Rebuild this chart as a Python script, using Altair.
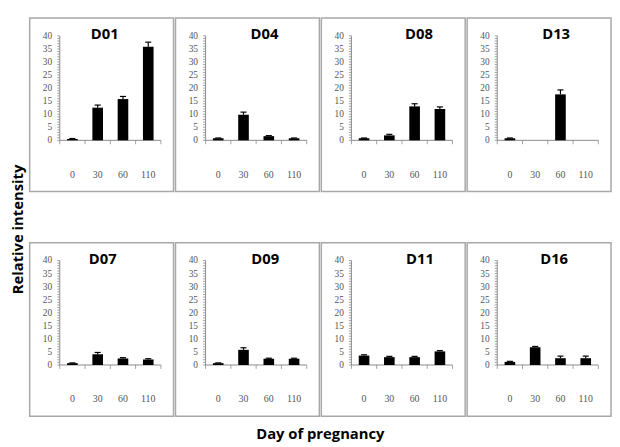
import altair as alt
import pandas as pd

days = ["0", "30", "60", "110"]
day_index = [0, 1, 2, 3]

names = ["D01", "D04", "D08", "D13", "D07", "D09", "D11", "D16"]

D01 = [0.5, 12.5, 15.8, 35.8]
D04 = [0.8, 9.8, 1.6, 0.8]
D08 = [0.8, 1.9, 13.0, 12.0]
D13 = [0.8, 0.0, 17.6, 0.0]
D07 = [0.7, 4.1, 2.5, 2.1]
D09 = [0.7, 5.8, 2.4, 2.4]
D11 = [3.6, 3.0, 3.0, 5.2]
D16 = [1.2, 6.8, 2.6, 2.6]

D01_err = [0.2, 1.0, 1.0, 1.8]
D04_err = [0.1, 1.0, 0.2, 0.1]
D08_err = [0.1, 0.4, 1.0, 0.8]
D13_err = [0.1, 0.0, 1.7, 0.0]
D07_err = [0.1, 0.7, 0.3, 0.3]
D09_err = [0.1, 0.8, 0.2, 0.2]
D11_err = [0.3, 0.3, 0.3, 0.3]
D16_err = [0.2, 0.3, 0.8, 0.8]

values = [D01, D04, D08, D13, D07, D09, D11, D16]
errors = [D01_err, D04_err, D08_err, D13_err, D07_err, D09_err, D11_err, D16_err]

y_ticks = list(range(0, 41))
y_labels = list(range(0, 41, 5))
x_bounds = [-0.5, 0.5, 1.5, 2.5, 3.5]

# layout (not data)
title_pos = [1.28, 1.83, 2.17, 1.83, 1.2, 1.86, 2.21, 1.75]
PW, PH = 146, 176
XS = alt.Scale(domain=[-1.69, 4.0], nice=False, zero=False)
YS = alt.Scale(domain=[-19.6, 46.8], nice=False, zero=False)
AX = "#8a8a8a"
LBL_FONT = "Liberation Serif"


def panel(name, vals, errs, tx):
    df = pd.DataFrame({"day": days, "idx": day_index, "value": vals, "err": errs})
    base = alt.Chart(df)
    one = alt.Chart(pd.DataFrame({"k": [0]}))

    bars = base.transform_calculate(
        xl="datum.idx - 0.21", xr="datum.idx + 0.21"
    ).mark_bar(color="black").encode(
        x=alt.X("xl:Q", scale=XS, axis=None),
        x2="xr:Q",
        y=alt.Y("value:Q", scale=YS, axis=None),
        y2=alt.datum(0),
    )
    ebars = base.transform_filter("datum.err > 0").transform_calculate(
        top="datum.value + datum.err"
    ).mark_rule(color="black", strokeWidth=1.2).encode(
        x=alt.X("idx:Q", scale=XS, axis=None),
        y=alt.Y("value:Q", scale=YS, axis=None),
        y2="top:Q",
    )
    caps = base.transform_filter("datum.err > 0").transform_calculate(
        top="datum.value + datum.err", cl="datum.idx - 0.12", cr="datum.idx + 0.12"
    ).mark_rule(color="black", strokeWidth=1.2).encode(
        x=alt.X("cl:Q", scale=XS, axis=None),
        x2="cr:Q",
        y=alt.Y("top:Q", scale=YS, axis=None),
    )
    yline = one.mark_rule(color=AX, strokeWidth=1).encode(
        x=alt.X(datum=-0.5, scale=XS, axis=None),
        y=alt.Y(datum=0, scale=YS, axis=None),
        y2=alt.datum(40),
    )
    yt = alt.Chart(pd.DataFrame({"t": y_ticks})).mark_rule(color=AX, strokeWidth=0.8).encode(
        x=alt.X(datum=-0.6, scale=XS, axis=None),
        x2=alt.datum(-0.5),
        y=alt.Y("t:Q", scale=YS, axis=None),
    )
    yl = alt.Chart(pd.DataFrame({"t": y_labels})).mark_text(
        align="right", baseline="middle", font=LBL_FONT, fontSize=9.5, color="#555"
    ).encode(
        x=alt.X(datum=-0.8, scale=XS, axis=None),
        y=alt.Y("t:Q", scale=YS, axis=None),
        text="t:Q",
    )
    xline = one.mark_rule(color=AX, strokeWidth=1).encode(
        x=alt.X(datum=-0.5, scale=XS, axis=None),
        x2=alt.datum(3.5),
        y=alt.Y(datum=0, scale=YS, axis=None),
    )
    xt = alt.Chart(pd.DataFrame({"b": x_bounds})).mark_rule(color=AX, strokeWidth=0.8).encode(
        x=alt.X("b:Q", scale=XS, axis=None),
        y=alt.Y(datum=0, scale=YS, axis=None),
        y2=alt.datum(-1.5),
    )
    xl = base.mark_text(
        align="center", baseline="middle", font=LBL_FONT, fontSize=10, color="#555"
    ).encode(
        x=alt.X("idx:Q", scale=XS, axis=None),
        y=alt.Y(datum=-13.2, scale=YS, axis=None),
        text="day:N",
    )
    title = one.mark_text(
        align="center", baseline="middle", font="Open Sans", fontSize=15,
        fontWeight="bold", color="black"
    ).encode(
        x=alt.X(datum=tx, scale=XS, axis=None),
        y=alt.Y(datum=40.6, scale=YS, axis=None),
        text=alt.value(name),
    )
    return alt.layer(yt, yline, xt, xline, bars, ebars, caps, yl, xl, title).properties(
        width=PW, height=PH
    )


panels = [panel(n, v, e, t) for n, v, e, t in zip(names, values, errors, title_pos)]

row1 = alt.hconcat(*panels[:4], spacing=0)
row2 = alt.hconcat(*panels[4:], spacing=0)

inner = alt.vconcat(row1, row2, spacing=50).properties(
    title=alt.TitleParams(
        "Day of pregnancy", orient="bottom", anchor="middle",
        font="Open Sans", fontSize=15, fontWeight="bold", color="black", offset=10
    )
)

chart = alt.hconcat(inner).properties(
    title=alt.TitleParams(
        "Relative intensity", orient="left", anchor="middle",
        font="Open Sans", fontSize=15, fontWeight="bold", color="black", offset=3
    ),
    padding={"left": 3, "top": 6, "right": 0, "bottom": 0},
).configure_view(stroke="#a8a8a8", strokeWidth=1.5)

chart.save("out.html", embed_options={"renderer": "svg", "actions": False})
